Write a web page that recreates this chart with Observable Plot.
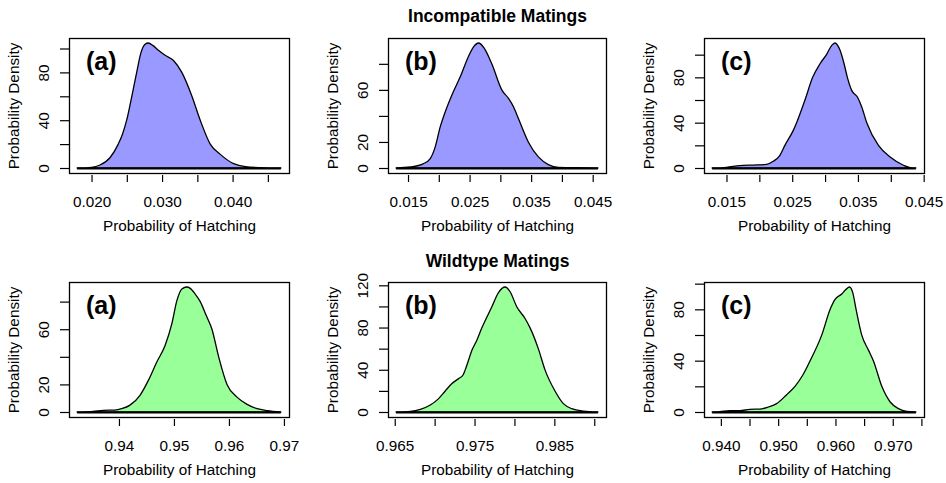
<!DOCTYPE html>
<html>
<head>
<meta charset="utf-8">
<script src="https://cdn.jsdelivr.net/npm/d3@7"></script>
<script src="https://cdn.jsdelivr.net/npm/@observablehq/plot@0.6"></script>
<style>
  html, body { margin: 0; padding: 0; background: #fff; }
  #wrap { position: relative; width: 946px; height: 483px; overflow: hidden; background: #fff; }
  #wrap > svg { position: absolute; }
</style>
</head>
<body>
<div id="wrap"></div>
<script>
// ---------- Data ----------
const rowTitles = ["Incompatible Matings", "Wildtype Matings"];
const panelLabels = ["(a)", "(b)", "(c)"];
const xTitle = "Probability of Hatching";
const yTitle = "Probability Density";

// Incompatible (a)
const incA_x = [0.01796,0.0200,0.02119,0.02261,0.02379,0.02441,0.02498,0.02569,0.02640,0.02697,0.02759,0.02806,0.02868,0.02948,0.03043,0.03162,0.03280,0.03422,0.03541,0.03683,0.03826,0.04015,0.04181,0.04395,0.04684];
const incA_y = [0,0.6,2.5,8.6,20,28.7,40,59.4,80,95.7,103.5,104.6,102.6,98.5,94.3,90,80,60.3,40,20,11.4,3.6,1.1,0.3,0];
// Incompatible (b)
const incB_x = [0.01306,0.01537,0.01753,0.01861,0.01942,0.02023,0.02105,0.02213,0.02348,0.02482,0.02565,0.02645,0.02737,0.02861,0.03023,0.03132,0.03213,0.03277,0.03456,0.03618,0.03780,0.03942,0.04239,0.04585];
const incB_y = [0,0.8,3.4,7.2,16.2,31.6,43.2,56.1,70,85.7,93,96,92.1,80,60,53.5,47.1,39.9,19.8,8.5,2.6,0.5,0.3,0];
// Incompatible (c)
const incC_x = [0.01282,0.0150,0.01703,0.01907,0.02110,0.02211,0.02313,0.02389,0.02516,0.02567,0.02694,0.02811,0.02923,0.03024,0.03101,0.03151,0.03228,0.03289,0.03339,0.03405,0.03492,0.03558,0.03634,0.03812,0.03990,0.04193,0.04295,0.04381];
const incC_y = [0,0.6,2.1,2.6,3.2,5.9,11.2,20,33.2,40,60,80,92,100.3,108.2,110.3,103.8,92,80,68.5,62.6,53.8,40,20,9.7,2.4,0.3,0];
// Wildtype (a)
const wildA_x = [0.93240,0.93532,0.93714,0.93927,0.94049,0.94201,0.94383,0.94535,0.94688,0.94839,0.94962,0.95053,0.95144,0.95235,0.95296,0.95387,0.95478,0.95588,0.95691,0.95813,0.95965,0.96147,0.96330,0.96512,0.96695,0.96944];
const wildA_y = [0,0.5,1.2,1.4,2.4,5,12.1,22.9,36.2,48.2,64,80.7,89.2,90.6,89.6,85.5,80,69.9,60,40,20,10.8,5.5,2.4,1,0];
// Wildtype (b)
const wildB_x = [0.96517,0.96696,0.96821,0.96946,0.97050,0.97133,0.97217,0.97300,0.97354,0.97383,0.97475,0.97529,0.97592,0.97717,0.97800,0.97883,0.97946,0.98029,0.98133,0.98196,0.98300,0.98383,0.98508,0.98613,0.98717,0.98863,0.99046];
const wildB_y = [0,0.6,2.5,6.6,12.7,19.9,26.9,31.6,34.8,39.9,59.8,68,79.7,99.7,113,118.4,113.9,99.7,88.6,79.7,59.8,39.9,19.9,7.9,3.2,0.9,0];
// Wildtype (c)
const wildC_x = [0.93848,0.93983,0.94157,0.94332,0.94507,0.94682,0.94828,0.94973,0.95148,0.95294,0.95428,0.95556,0.95760,0.95906,0.95993,0.96110,0.96185,0.96244,0.96302,0.96360,0.96459,0.96576,0.96663,0.96809,0.96955,0.97100,0.97246,0.97403];
const wildC_y = [0,0.3,1,1,2.1,2.3,3.9,6.5,13.5,20,28.6,39.8,59.9,79.9,87.8,91.9,95.6,97.4,93,79.9,59.9,48.2,39.8,20,7.8,2.6,0.5,0];

// Ticks and tick labels
const incA_xticks = [0.020,0.025,0.030,0.035,0.040,0.045];
const incA_xlabels = ["0.020","0.030","0.040"];
const incA_yticks = [0,20,40,60,80,100];
const incA_ylabels = ["0","40","80"];
const incB_xticks = [0.015,0.020,0.025,0.030,0.035,0.040,0.045];
const incB_xlabels = ["0.015","0.025","0.035","0.045"];
const incB_yticks = [0,20,40,60,80];
const incB_ylabels = ["0","20","60"];
const incC_xticks = [0.015,0.020,0.025,0.030,0.035,0.040,0.045];
const incC_xlabels = ["0.015","0.025","0.035","0.045"];
const incC_yticks = [0,20,40,60,80,100];
const incC_ylabels = ["0","40","80"];
const wildA_xticks = [0.94,0.95,0.96,0.97];
const wildA_xlabels = ["0.94","0.95","0.96","0.97"];
const wildA_yticks = [0,20,40,60,80];
const wildA_ylabels = ["0","20","60"];
const wildB_xticks = [0.965,0.970,0.975,0.980,0.985,0.990];
const wildB_xlabels = ["0.965","0.975","0.985"];
const wildB_yticks = [0,20,40,60,80,100,120];
const wildB_ylabels = ["0","40","80","120"];
const wildC_xticks = [0.940,0.945,0.950,0.955,0.960,0.965,0.970,0.975];
const wildC_xlabels = ["0.940","0.950","0.960","0.970"];
const wildC_yticks = [0,20,40,60,80,100];
const wildC_ylabels = ["0","40","80"];

// ---------- Layout ----------
const BLUE = "#9999ff", GREEN = "#99ff99";
const boxLeft = [69, 388, 704], boxRight = [289, 606, 924];
const boxTop = [38, 282], boxBottom = [173, 417];
const ML = 69, MR = 12, MT = 38, MB = 62;
const titleDy = [-16.5, -15.3];

const panels = [
  {x: incA_x, y: incA_y, xt: incA_xticks, xl: incA_xlabels, yt: incA_yticks, yl: incA_ylabels, row: 0, col: 0, fill: BLUE},
  {x: incB_x, y: incB_y, xt: incB_xticks, xl: incB_xlabels, yt: incB_yticks, yl: incB_ylabels, row: 0, col: 1, fill: BLUE},
  {x: incC_x, y: incC_y, xt: incC_xticks, xl: incC_xlabels, yt: incC_yticks, yl: incC_ylabels, row: 0, col: 2, fill: BLUE},
  {x: wildA_x, y: wildA_y, xt: wildA_xticks, xl: wildA_xlabels, yt: wildA_yticks, yl: wildA_ylabels, row: 1, col: 0, fill: GREEN},
  {x: wildB_x, y: wildB_y, xt: wildB_xticks, xl: wildB_xlabels, yt: wildB_yticks, yl: wildB_ylabels, row: 1, col: 1, fill: GREEN},
  {x: wildC_x, y: wildC_y, xt: wildC_xticks, xl: wildC_xlabels, yt: wildC_yticks, yl: wildC_ylabels, row: 1, col: 2, fill: GREEN}
];

const wrap = document.getElementById("wrap");

for (const p of panels) {
  const data = p.x.map((v, i) => ({x: v, y: p.y[i]}));
  const [x0, x1] = d3.extent(p.x);
  const ymax = d3.max(p.y);
  const xs = x1 - x0;
  const dec = p.xl[0].split(".")[1].length;
  const fmtX = d => { const s = d.toFixed(dec); return p.xl.includes(s) ? s : ""; };
  const fmtY = d => { const s = String(Math.round(d)); return p.yl.includes(s) ? s : ""; };
  const bw = boxRight[p.col] - boxLeft[p.col];
  const bh = boxBottom[p.row] - boxTop[p.row];
  const width = ML + bw + MR;
  const height = MT + bh + MB;

  const marks = [
    Plot.areaY(data, {x: "x", y: "y", fill: p.fill, stroke: "black", strokeWidth: 1.3, curve: "monotone-x"}),
    Plot.ruleY([0], {x1: x0, x2: x1, stroke: "black", strokeWidth: 2.2}),
    Plot.frame({stroke: "black", strokeWidth: 1.3}),
    Plot.axisX({ticks: p.xt, tickFormat: fmtX, tickSize: 7, tickPadding: 14, dy: 2, label: null, strokeWidth: 1.2}),
    Plot.axisY({ticks: p.yt, tickFormat: fmtY, tickSize: 9, tickPadding: 12, tickRotate: -90, label: null, strokeWidth: 1.2}),
    Plot.text([xTitle], {text: d => d, frameAnchor: "bottom", dy: 57, lineAnchor: "bottom", textAnchor: "middle"}),
    Plot.text([yTitle], {text: d => d, frameAnchor: "left", dx: -51, rotate: -90, lineAnchor: "bottom", textAnchor: "middle"}),
    Plot.text([panelLabels[p.col]], {text: d => d, frameAnchor: "top-left", dx: 16.5, dy: 31, lineAnchor: "bottom", textAnchor: "start", fontWeight: "bold", fontSize: 25})
  ];
  if (p.col === 1) {
    marks.push(Plot.text([rowTitles[p.row]], {text: d => d, frameAnchor: "top", dy: titleDy[p.row], lineAnchor: "bottom", textAnchor: "middle", fontWeight: "bold", fontSize: 17.5}));
  }

  const svg = Plot.plot({
    width, height,
    marginLeft: ML, marginRight: MR, marginTop: MT, marginBottom: MB,
    x: {domain: [x0 - 0.04 * xs, x1 + 0.04 * xs]},
    y: {domain: [-0.04 * ymax, 1.04 * ymax]},
    style: {fontFamily: "'Liberation Sans', Arial, sans-serif", fontSize: "15.3px", color: "black", background: "transparent", overflow: "visible"},
    marks
  });
  svg.style.left = (boxLeft[p.col] - ML) + "px";
  svg.style.top = (boxTop[p.row] - MT) + "px";
  wrap.appendChild(svg);
}
</script>
</body>
</html>
